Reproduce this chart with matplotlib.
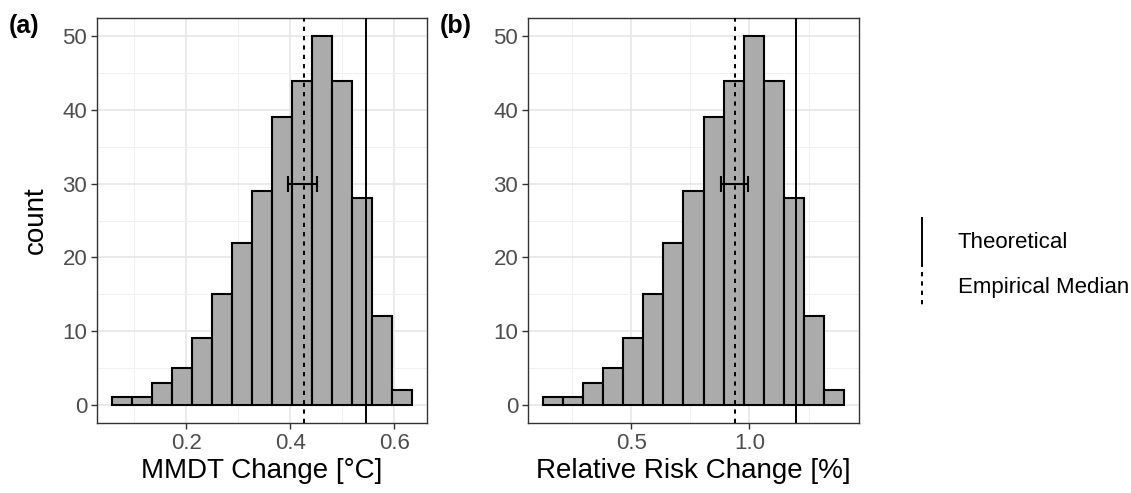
import numpy as np
import matplotlib
matplotlib.use("Agg")
import matplotlib.pyplot as plt
from matplotlib.lines import Line2D

plt.rcParams["font.family"] = ["Liberation Sans", "DejaVu Sans"]

# histogram counts (same in both panels)
counts = [1, 1, 3, 5, 9, 15, 22, 29, 39, 44, 50, 44, 28, 12, 2]

# panel (a): MMDT change
mmdt_range = (0.0567, 0.6344)
mmdt_theoretical = 0.545
mmdt_median = 0.426
mmdt_ci = (0.396, 0.452)

# panel (b): relative risk change
rr_range = (0.128, 1.399)
rr_theoretical = 1.198
rr_median = 0.938
rr_ci = (0.878, 0.994)

ci_height = 30

panels = [
    ("(a)", "MMDT Change [°C]", mmdt_range, mmdt_theoretical, mmdt_median, mmdt_ci,
     [0.2, 0.4, 0.6], ["0.2", "0.4", "0.6"], [0.1, 0.3, 0.5]),
    ("(b)", "Relative Risk Change [%]", rr_range, rr_theoretical, rr_median, rr_ci,
     [0.5, 1.0], ["0.5", "1.0"], [0.25, 0.75, 1.25]),
]

W, H = 1131, 493
fig = plt.figure(figsize=(W / 100, H / 100), dpi=100)

axes_px = [(97, 18, 427, 423), (528, 18, 859, 423)]

dash = (2.2, 2.6)

for (tag, xlabel, rng, theo, med, ci, xt, xtl, xminor), (l, t, r, b) in zip(panels, axes_px):
    ax = fig.add_axes([l / W, 1 - b / H, (r - l) / W, (b - t) / H])
    edges = np.linspace(rng[0], rng[1], len(counts) + 1)
    width = edges[1] - edges[0]
    ax.bar(edges[:-1], counts, width=width, align="edge", color="#ababab",
           edgecolor="black", linewidth=1.5, zorder=2)
    ax.axvline(theo, color="black", linewidth=1.4, zorder=3)
    ax.axvline(med, color="black", linewidth=1.4, linestyle=(0, dash), zorder=3)
    ax.errorbar([(ci[0] + ci[1]) / 2], [ci_height], xerr=[[(ci[1] - ci[0]) / 2]],
                fmt="none", ecolor="black", elinewidth=1.5, capsize=5.5,
                capthick=1.5, zorder=4)

    span = rng[1] - rng[0]
    ax.set_xlim(rng[0] - 0.05 * span, rng[1] + 0.05 * span)
    ax.set_ylim(-2.5, 52.5)
    ax.set_xticks(xt)
    ax.set_xticklabels(xtl)
    ax.set_xticks(xminor, minor=True)
    ax.set_yticks([0, 10, 20, 30, 40, 50])
    ax.set_yticks([5, 15, 25, 35, 45], minor=True)
    ax.grid(which="major", color="#e6e6e6", linewidth=1.2, zorder=0)
    ax.grid(which="minor", color="#f0f0f0", linewidth=0.7, zorder=0)
    ax.set_axisbelow(True)
    ax.tick_params(which="major", length=4, width=1.0, color="#333333",
                   labelsize=16, labelcolor="#4d4d4d", pad=3)
    ax.tick_params(which="minor", length=0)
    for s in ax.spines.values():
        s.set_color("#333333")
        s.set_linewidth(1.0)
    ax.set_xlabel(xlabel, fontsize=20, labelpad=3)
    if tag == "(a)":
        ax.set_ylabel("count", fontsize=20, labelpad=10)
    fig.text((l - 88) / W, 1 - 26 / H, tag, fontsize=18, fontweight="bold",
             ha="left", va="center")

# legend
lx = 922 / W
fig.add_artist(Line2D([lx, lx], [1 - 218 / H, 1 - 266 / H], color="black",
                      linewidth=1.4, transform=fig.transFigure))
fig.add_artist(Line2D([lx, lx], [1 - 272 / H, 1 - 306 / H], color="black",
                      linewidth=1.4, linestyle=(0, dash), transform=fig.transFigure))
fig.text(958 / W, 1 - 242 / H, "Theoretical", fontsize=16, ha="left", va="center")
fig.text(958 / W, 1 - 287 / H, "Empirical Median", fontsize=16, ha="left", va="center")

fig.savefig("out.png", dpi=100)
